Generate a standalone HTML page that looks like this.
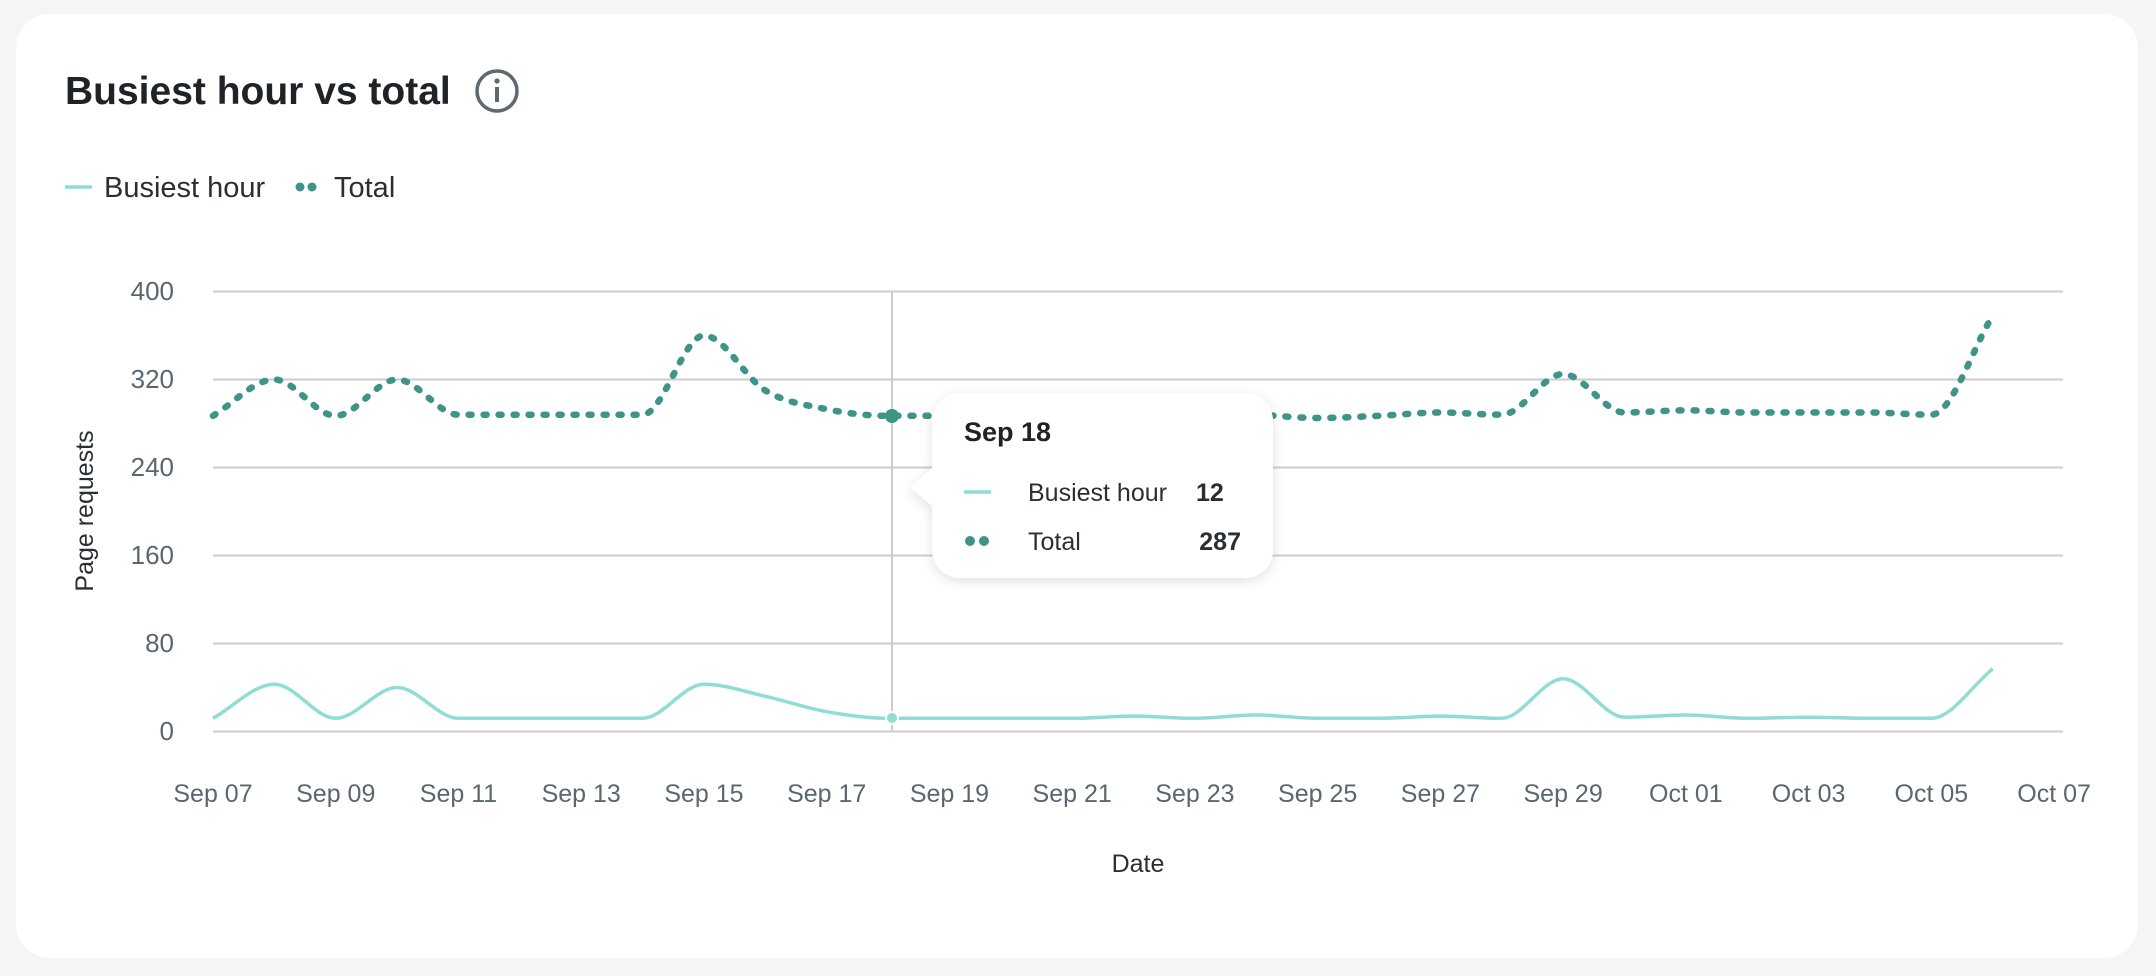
<!DOCTYPE html>
<html><head><meta charset="utf-8"><style>
body{margin:0;width:2156px;height:976px;background:#f4f5f7;font-family:"Liberation Sans",sans-serif;overflow:hidden}
svg{position:absolute;left:0;top:0}
</style></head><body>
<svg width="2156" height="976" xmlns="http://www.w3.org/2000/svg">
<defs><filter id="sh" x="-20%" y="-20%" width="140%" height="150%"><feDropShadow dx="0" dy="3" stdDeviation="6" flood-color="#000" flood-opacity="0.12"/></filter></defs>
<rect x="16" y="14" width="2122" height="944" rx="34" fill="#fff"/>
<text x="65" y="104" font-size="39" font-weight="bold" fill="#1f2328">Busiest hour vs total</text>
<circle cx="497" cy="91" r="20" fill="none" stroke="#5d6970" stroke-width="3.5"/>
<circle cx="497" cy="81" r="2.6" fill="#5d6970"/>
<rect x="495" y="87" width="4" height="15" fill="#5d6970"/>
<line x1="65" y1="187" x2="92" y2="187" stroke="#8fddd4" stroke-width="3.5"/>
<text x="104" y="197" font-size="29" fill="#2a2f35">Busiest hour</text>
<circle cx="300" cy="187" r="4.5" fill="#3f9488"/><circle cx="312" cy="187" r="4.5" fill="#3f9488"/>
<text x="334" y="197" font-size="29" fill="#2a2f35">Total</text>
<g stroke="#cccccc" stroke-width="2">
<line x1="213" y1="291.5" x2="2063" y2="291.5"/><line x1="213" y1="379.5" x2="2063" y2="379.5"/>
<line x1="213" y1="467.5" x2="2063" y2="467.5"/><line x1="213" y1="555.5" x2="2063" y2="555.5"/>
<line x1="213" y1="643.5" x2="2063" y2="643.5"/><line x1="213" y1="731.5" x2="2063" y2="731.5"/>
<line x1="892" y1="291.5" x2="892" y2="731.5"/>
</g>
<g font-size="26" fill="#5a6670" text-anchor="end">
<text x="174" y="300">400</text><text x="174" y="388">320</text><text x="174" y="476">240</text>
<text x="174" y="564">160</text><text x="174" y="652">80</text><text x="174" y="740">0</text>
</g>
<g id="xl" font-size="25" fill="#5a6670" text-anchor="middle"></g>
<text x="1138" y="872" font-size="25" fill="#2a2f35" text-anchor="middle">Date</text>
<text transform="translate(93,511) rotate(-90)" font-size="25" fill="#2a2f35" text-anchor="middle">Page requests</text>
<path id="bh" fill="none" stroke="#8fddd4" stroke-width="3.5"/>
<path id="tt" fill="none" stroke="#3f9488" stroke-width="6.5" stroke-linecap="round" stroke-dasharray="3 12"/>
<circle cx="892" cy="416" r="7" fill="#3f9488"/>
<circle cx="892" cy="718" r="6" fill="#8fddd4" stroke="#fff" stroke-width="2"/>
<g filter="url(#sh)">
<rect x="932" y="393" width="341" height="185" rx="28" fill="#fff"/>
<path d="M934 466 L910 487 L934 508 Z" fill="#fff"/>
</g>
<text x="964" y="441" font-size="27" font-weight="bold" fill="#1f2328">Sep 18</text>
<line x1="964" y1="492" x2="991" y2="492" stroke="#8fddd4" stroke-width="3.5"/>
<text x="1028" y="501" font-size="25" fill="#2a2f35">Busiest hour</text>
<text x="1196" y="501" font-size="25" font-weight="bold" fill="#2a2f35">12</text>
<circle cx="970" cy="541" r="5" fill="#3f9488"/><circle cx="984" cy="541" r="5" fill="#3f9488"/>
<text x="1028" y="550" font-size="25" fill="#2a2f35">Total</text>
<text x="1241" y="550" font-size="25" font-weight="bold" fill="#2a2f35" text-anchor="end">287</text>
</svg>
<script>
var dx=61.37,x0=213;
var T=[287,320,287,320,288,288,288,288,360,310,293,287,287,288,288,288,289,288,285,287,290,288,325,290,292,290,290,290,288,378];
var B=[12,43,12,40,12,12,12,12,43,32,18,12,12,12,12,14,12,15,12,12,14,12,48,13,15,12,13,12,12,57];
function Y(v){return 731.5-v*1.1}
function mono(vals){
 var n=vals.length,xs=[],ys=[];for(var i=0;i<n;i++){xs.push(x0+i*dx);ys.push(Y(vals[i]));}
 var s=[],t=[];for(var i=0;i<n-1;i++)s.push((ys[i+1]-ys[i])/dx);
 for(var i=0;i<n;i++){if(i==0)t.push(s[0]);else if(i==n-1)t.push(s[n-2]);else t.push(0);}
 for(var i=1;i<n-1;i++){var a=s[i-1],b=s[i];if(a*b<=0)t[i]=0;else{var p=(a+b)/2;t[i]=(Math.sign(a)+Math.sign(b))*Math.min(Math.abs(a),Math.abs(b),0.5*Math.abs(p));}}
 var d="M"+xs[0]+","+ys[0];
 for(var i=0;i<n-1;i++){var h=dx/3;d+=" C"+(xs[i]+h)+","+(ys[i]+t[i]*h)+" "+(xs[i+1]-h)+","+(ys[i+1]-t[i+1]*h)+" "+xs[i+1]+","+ys[i+1];}
 return d;}
document.getElementById('bh').setAttribute('d',mono(B));
document.getElementById('tt').setAttribute('d',mono(T));
var L=["Sep 07","Sep 09","Sep 11","Sep 13","Sep 15","Sep 17","Sep 19","Sep 21","Sep 23","Sep 25","Sep 27","Sep 29","Oct 01","Oct 03","Oct 05","Oct 07"];
var g=document.getElementById('xl'),h="";
for(var i=0;i<L.length;i++)h+='<text x="'+(x0+i*2*dx)+'" y="802">'+L[i]+'</text>';
g.innerHTML=h;
</script>
</body></html>
